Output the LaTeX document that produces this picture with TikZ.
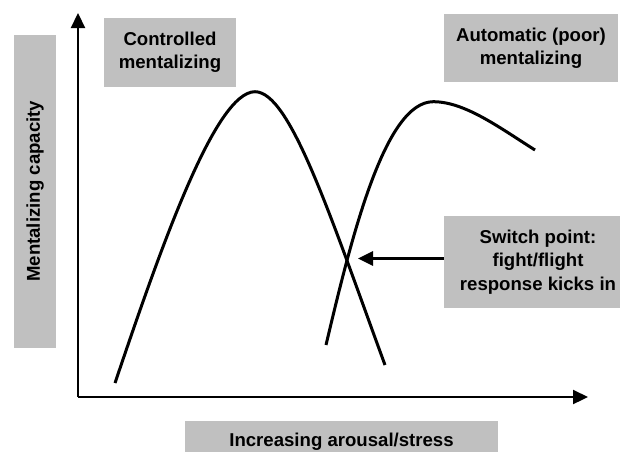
\documentclass[tikz,border=0pt]{standalone}
\usepackage{fontspec}
\setmainfont{Liberation Sans}
\usetikzlibrary{arrows.meta}
\definecolor{boxgray}{RGB}{192,192,192}
\tikzset{
  lbl/.style={fill=boxgray, inner sep=0pt, align=center,
    font=\fontsize{18.6}{23.5}\selectfont\bfseries},
  axis/.style={line width=2.2pt, -{Triangle[length=15pt,width=14pt]}},
  curve/.style={line width=3pt, line cap=butt},
  pointer/.style={line width=3pt, -{Triangle[length=15pt,width=14pt]}}
}
\begin{document}
\begin{tikzpicture}[x=1pt,y=-1pt]
\useasboundingbox (0,0) rectangle (620,451);
% axes
\coordinate (origin) at (78,397);
\coordinate (ytip) at (78,13);
\coordinate (xtip) at (588,397);
\draw[axis] (origin) -- (ytip);
\draw[axis] (origin) -- (xtip);
% labels
\node[lbl, minimum width=132pt, minimum height=68.7pt] (ctrl) at (170,52.3) {Controlled\\mentalizing};
\node[lbl, minimum width=174pt, minimum height=68.3pt] (auto) at (531,48.2) {Automatic (poor)\\mentalizing};
\node[lbl, minimum width=188pt, minimum height=92pt] (switch) at (538,262) {Switch point:\\fight/flight\\response kicks in};
\node[lbl, anchor=north, minimum width=313pt, minimum height=42pt] (xlab) at (341.5,421) {Increasing arousal/stress};
\node[lbl, rotate=90, minimum width=312.7pt, minimum height=42pt] (ylab) at (35,191.3) {Mentalizing capacity};
% curves
\coordinate (c1s) at (115,383);
\coordinate (c1p) at (255,91.7);
\coordinate (c1e) at (385,365);
\draw[curve] (c1s) .. controls (160,250) and (215,91.7) .. (c1p)
                   .. controls (290,91.7) and (330,215) .. (c1e);
\coordinate (c2s) at (326,345);
\coordinate (c2p) at (433.3,101.7);
\coordinate (c2e) at (535,150);
\draw[curve] (c2s) .. controls (352,235) and (385,101.7) .. (c2p)
                   .. controls (465,101.7) and (500,128) .. (c2e);
% switch arrow
\coordinate (cross) at (358,258.5);
\draw[pointer] (switch.west |- cross) -- (cross);
\end{tikzpicture}
\end{document}
